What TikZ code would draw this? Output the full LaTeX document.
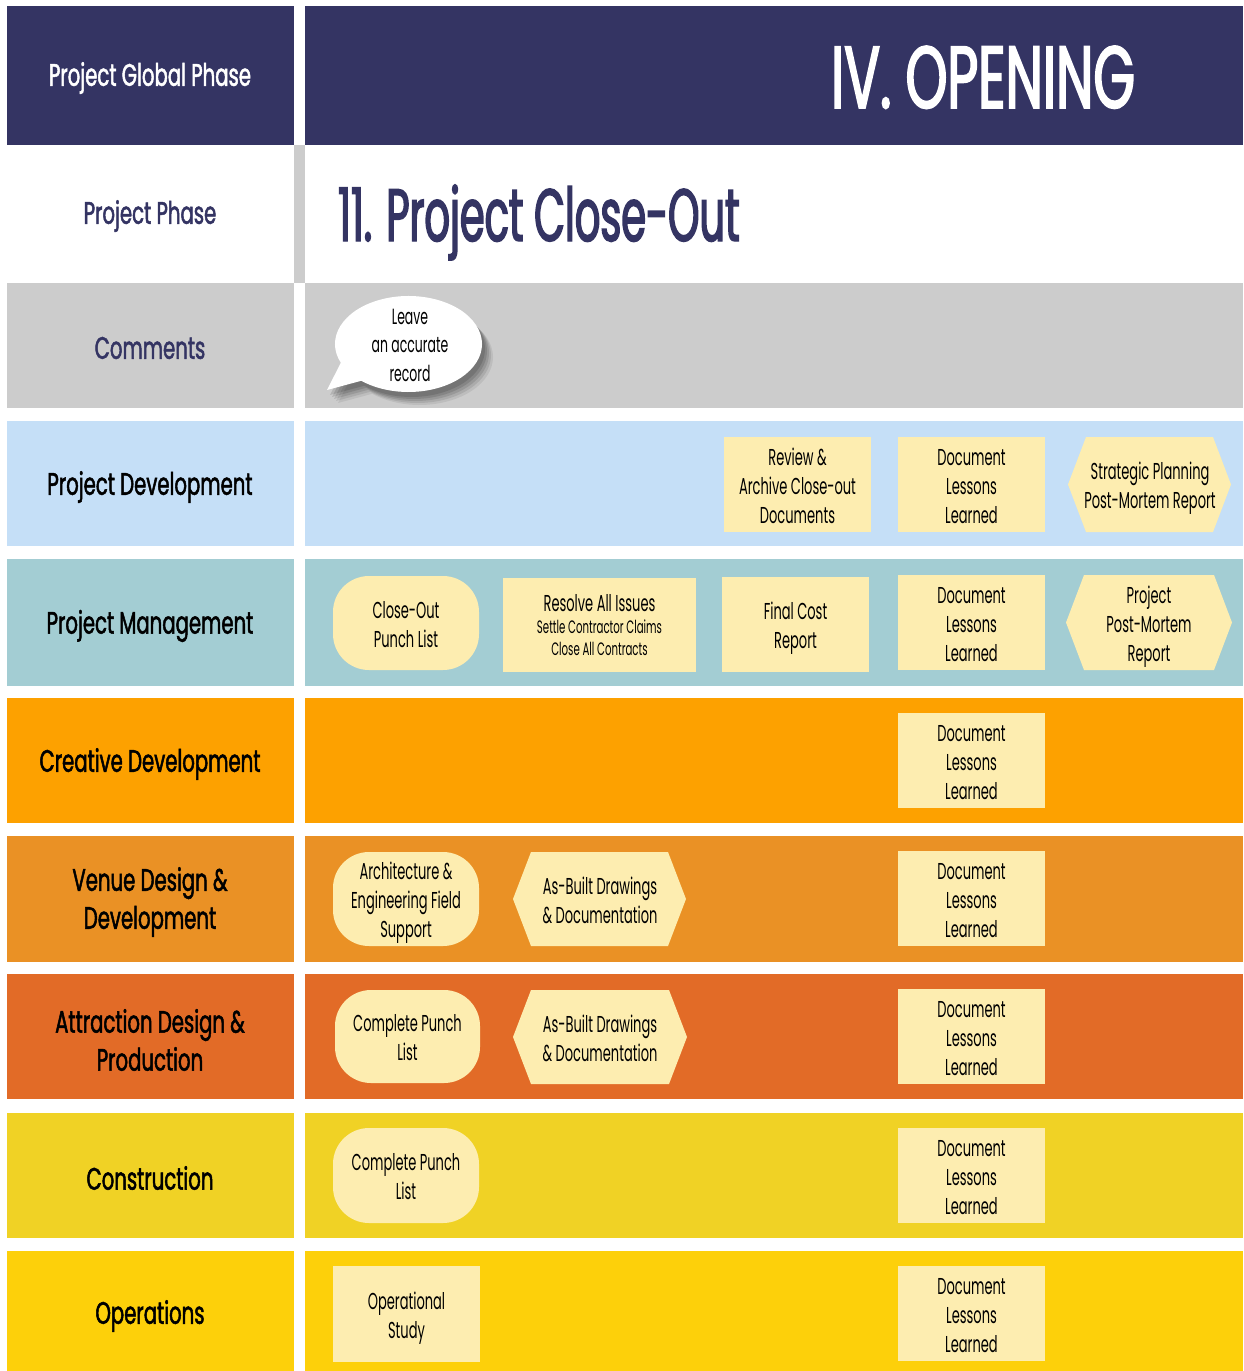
\documentclass[tikz,border=0pt]{standalone}
\usepackage{fontspec}
\setmainfont{Poppins}[FakeStretch=0.566]
\newfontfamily\lblfont{Poppins}[FakeStretch=0.635,FakeBold=1.6]
\newfontfamily\opfont{Poppins}[FakeStretch=0.605,FakeBold=2]
\newfontfamily\pcfont{Poppins}[FakeStretch=0.54,FakeBold=2]
\newcommand\bt[1]{\raisebox{-4pt}[\height][\depth]{\begin{tabular}{@{}c@{}}#1\end{tabular}}}
\begin{document}
\definecolor{navy}{RGB}{52,52,99}
\definecolor{lgray}{RGB}{204,204,204}
\definecolor{cream}{RGB}{253,237,176}
\definecolor{rowA}{RGB}{197,223,247}
\definecolor{rowB}{RGB}{163,205,211}
\definecolor{rowC}{RGB}{253,161,0}
\definecolor{rowD}{RGB}{234,145,37}
\definecolor{rowE}{RGB}{226,107,39}
\definecolor{rowF}{RGB}{240,210,37}
\definecolor{rowG}{RGB}{253,208,10}
\begin{tikzpicture}[x=1pt,y=-1pt,
  lbl/.style={align=center,font=\lblfont\fontsize{31}{38}\selectfont,text=black},
  box/.style={fill=cream,minimum width=147,minimum height=95,inner sep=0pt,
    font=\fontsize{23}{29}\selectfont,text=black},
  rbox/.style={box,rounded corners=36pt},
  htext/.style={inner sep=0pt,font=\fontsize{23}{29}\selectfont,text=black}]
\useasboundingbox (0,0) rectangle (1243,1371);
\fill[white] (0,0) rectangle (1243,1371);
% bands
\fill[navy] (7,6) rectangle (294,145);
\fill[navy] (305,6) rectangle (1243,145);
\fill[lgray] (294,145) rectangle (305,283);
\fill[lgray] (7,283) rectangle (294,408);
\fill[lgray] (305,283) rectangle (1243,408);
\foreach \c/\a/\b in {rowA/421/546,rowB/559/686,rowC/698/823,rowD/836/962,rowE/974/1099,rowF/1113/1238,rowG/1251/1371}{
  \fill[\c] (7,\a) rectangle (294,\b);
  \fill[\c] (305,\a) rectangle (1243,\b);
}
% left labels
\node[lbl,text=white] (gp) at (150,78) {Project Global Phase};
\node[lbl,text=navy] (pp) at (150,216) {Project Phase};
\node[lbl,text=navy] (cm) at (150,348) {Comments};
\node[lbl] (l1) at (150,487) {Project Development};
\node[lbl] (l2) at (150,626) {Project Management};
\node[lbl] (l3) at (150,764) {Creative Development};
\node[lbl] (l4) at (150,902) {Venue Design \&\\Development};
\node[lbl] (l5) at (150,1040) {Attraction Design \&\\Production};
\node[lbl] (l6) at (150,1178) {Construction};
\node[lbl] (l7) at (150,1316) {Operations};
% headers
\node[anchor=base,text=white,inner sep=0pt,font=\opfont\fontsize{88}{90}\selectfont] (op) at (983,108) {IV. OPENING};
\node[anchor=base west,text=navy,inner sep=0pt,font=\pcfont\fontsize{74}{76}\selectfont] (pc) at (338,241) {11. Project Close-Out};
% speech bubble
\foreach \dx/\dy/\op in {11/13/0.07,9/11/0.09,7/9/0.11,5/7/0.12,3/5/0.12}{
  \fill[black,opacity=\op,shift={(\dx,\dy)}] ({408.5+73.5*cos(130)},{344+48*sin(130)}) -- (327,390)
    -- ({408.5+73.5*cos(157)},{344+48*sin(157)})
    arc[start angle=157,end angle=490,x radius=73.5,y radius=48] -- cycle;
}
\fill[white] ({408.5+73.5*cos(130)},{344+48*sin(130)}) -- (327,390)
    -- ({408.5+73.5*cos(157)},{344+48*sin(157)})
    arc[start angle=157,end angle=490,x radius=73.5,y radius=48] -- cycle;
\node[htext,align=center,font=\fontsize{22}{28.5}\selectfont] (bub) at (410,345) {Leave\\an accurate\\record};
% hexagon backgrounds
\foreach \cx/\cy/\w/\h in {1149.5/484.5/163/95, 1149/622.5/166/95, 599.5/899/173/94, 600/1037/174/94}{
  \fill[cream] ({\cx-\w/2},\cy) -- ({\cx-\w/2+18},{\cy-\h/2}) -- ({\cx+\w/2-18},{\cy-\h/2})
    -- ({\cx+\w/2},\cy) -- ({\cx+\w/2-18},{\cy+\h/2}) -- ({\cx-\w/2+18},{\cy+\h/2}) -- cycle;
}
% row A
\node[box] (a1) at (797.5,484.5) {\bt{Review \&\\Archive Close-out\\Documents}};
\node[box] (a2) at (971.5,484.5) {\bt{Document\\Lessons\\Learned}};
\node[htext] (a3) at (1150,484.5) {\bt{Strategic Planning\\Post-Mortem Report}};
% row B
\node[rbox,minimum width=146,minimum height=94] (b1) at (406,623) {\bt{Close-Out\\Punch List}};
\node[box,minimum width=193,minimum height=94] (b2) at (599.5,625)
  {\raisebox{-3pt}[\height][\depth]{\begin{tabular}{@{}c@{}}Resolve All Issues\\[-7pt]{\fontsize{18}{22}\selectfont Settle Contractor Claims}\\[-7pt]{\fontsize{18}{22}\selectfont Close All Contracts}\end{tabular}}};
\node[box] (b3) at (795.5,624.5) {\bt{Final Cost\\Report}};
\node[box] (b4) at (971.5,622.5) {\bt{Document\\Lessons\\Learned}};
\node[htext] (b5) at (1149,622.5) {\bt{Project\\Post-Mortem\\Report}};
% row C
\node[box] (c1) at (971.5,760.5) {\bt{Document\\Lessons\\Learned}};
% row D
\node[rbox,minimum width=146,minimum height=94] (d1) at (406,899) {\bt{Architecture \&\\Engineering Field\\Support}};
\node[htext] (d2) at (600,899) {\bt{As-Built Drawings\\\& Documentation}};
\node[box] (d3) at (971.5,898.5) {\bt{Document\\Lessons\\Learned}};
% row E
\node[rbox,minimum width=145,minimum height=93] (e1) at (407.5,1036.5) {\bt{Complete Punch\\List}};
\node[htext] (e2) at (600,1037) {\bt{As-Built Drawings\\\& Documentation}};
\node[box] (e3) at (971.5,1036.5) {\bt{Document\\Lessons\\Learned}};
% row F
\node[rbox,minimum width=146,minimum height=95] (f1) at (406,1175.5) {\bt{Complete Punch\\List}};
\node[box] (f2) at (971.5,1175.5) {\bt{Document\\Lessons\\Learned}};
% row G
\node[box,minimum height=96] (g1) at (406.5,1314) {\bt{Operational\\Study}};
\node[box] (g2) at (971.5,1313.5) {\bt{Document\\Lessons\\Learned}};
\end{tikzpicture}
\end{document}
